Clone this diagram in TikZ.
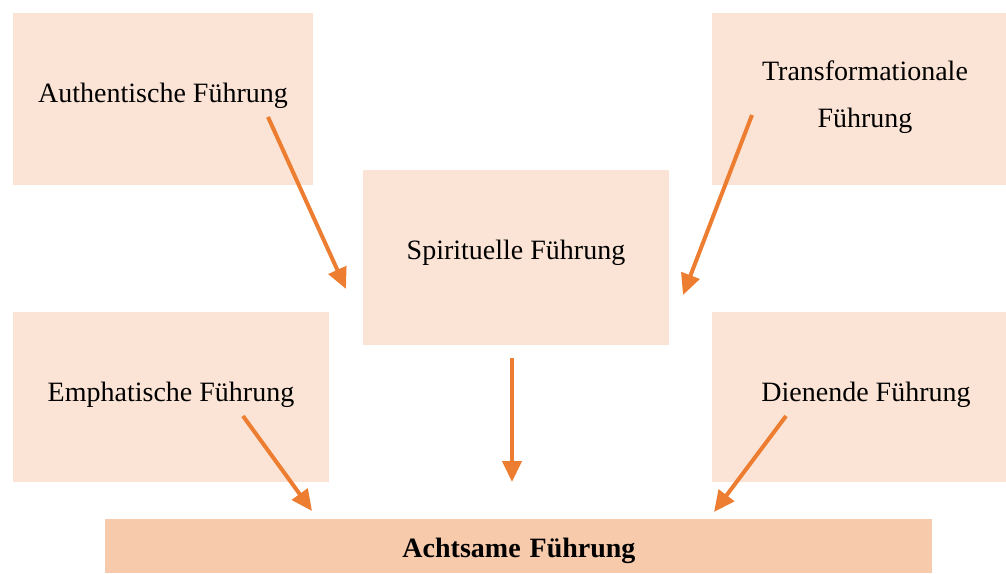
\documentclass[tikz,border=0pt]{standalone}
\usepackage{fontspec}
\setmainfont{Liberation Serif}
\usetikzlibrary{arrows.meta}
\definecolor{boxfill}{HTML}{FBE4D5}
\definecolor{barfill}{HTML}{F7CAAC}
\definecolor{arr}{HTML}{ED7D31}
\begin{document}
\begin{tikzpicture}[x=0.5pt,y=-0.5pt,
  box/.style={fill=boxfill, draw=none, inner sep=0pt},
  lbl/.style={font=\fontsize{14}{23.5}\selectfont, align=center, inner sep=0pt},
  flow/.style={draw=arr, line width=2pt, -{Triangle[length=10.5pt,width=9.5pt]}}]
\useasboundingbox (0,0) rectangle (1006,573);
% boxes
\node[box, minimum width=150pt, minimum height=86pt] (auth) at (163,99) {};
\node[box, minimum width=147pt, minimum height=86pt] (trans) at (859,99) {};
\node[box, minimum width=153pt, minimum height=87.5pt] (spir) at (516,257.5) {};
\node[box, minimum width=158pt, minimum height=85pt] (emph) at (171,397) {};
\node[box, minimum width=147pt, minimum height=85pt] (dien) at (859,397) {};
\node[fill=barfill, draw=none, inner sep=0pt, minimum width=413.5pt, minimum height=27pt] (acht) at (518.5,546) {};
% labels
\node[lbl] (tauth) at (163,96) {Authentische Führung};
\node[lbl] (ttrans) at (865,97) {Transformationale\\Führung};
\node[lbl] (tspir) at (516,253) {Spirituelle Führung};
\node[lbl] (temph) at (171,395) {Emphatische Führung};
\node[lbl] (tdien) at (866,395) {Dienende Führung};
\node[lbl, font=\fontsize{14}{23.5}\selectfont\bfseries] (tacht) at (519,551) {Achtsame\hspace{4.5pt}Führung};
% arrow endpoints
\coordinate (a1) at (268,117); \coordinate (a2) at (346,289);
\coordinate (b1) at (752,115); \coordinate (b2) at (683,295);
\coordinate (c1) at (512,358); \coordinate (c2) at (512,482);
\coordinate (d1) at (243,416); \coordinate (d2) at (312,511);
\coordinate (e1) at (786,416); \coordinate (e2) at (714,512);
\draw[flow] (a1) -- (a2);
\draw[flow] (b1) -- (b2);
\draw[flow] (c1) -- (c2);
\draw[flow] (d1) -- (d2);
\draw[flow] (e1) -- (e2);
\end{tikzpicture}
\end{document}
